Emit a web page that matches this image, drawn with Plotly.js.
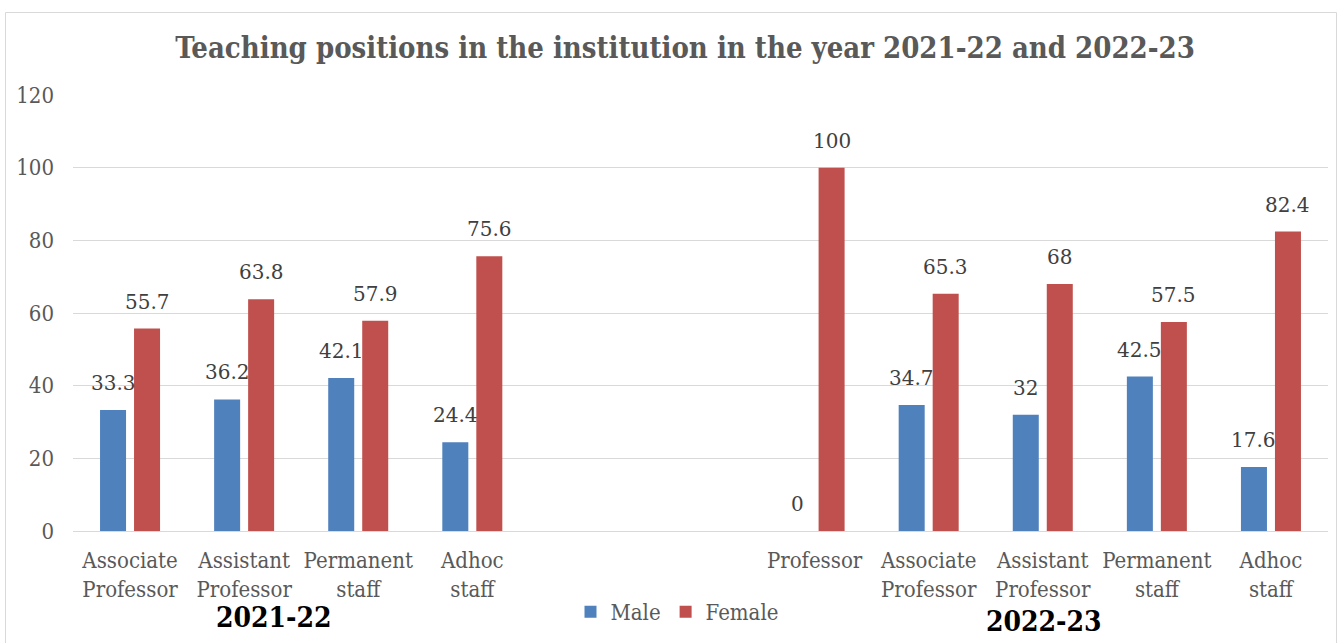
<!DOCTYPE html>
<html>
<head>
<meta charset="utf-8">
<script src="https://cdn.plot.ly/plotly-3.0.1.min.js"></script>
<style>
html,body{margin:0;padding:0;background:#fff;}
#chart{width:1338px;height:643px;}
</style>
</head>
<body>
<div id="chart"></div>
<script>
// Data
const years = ["2021-22", "2022-23"];
const categories2122 = ["Associate<br>Professor", "Assistant<br>Professor", "Permanent<br>staff", "Adhoc<br>staff"];
const categories2223 = ["Professor", "Associate<br>Professor", "Assistant<br>Professor", "Permanent<br>staff", "Adhoc<br>staff"];
const male2122 = [33.3, 36.2, 42.1, 24.4];
const female2122 = [55.7, 63.8, 57.9, 75.6];
const male2223 = [0, 34.7, 32, 42.5, 17.6];
const female2223 = [100, 65.3, 68, 57.5, 82.4];
const blankSlots = 2;

// Positions (category indices)
const idx2122 = categories2122.map((_, i) => i);
const off = categories2122.length + blankSlots;
const idx2223 = categories2223.map((_, i) => i + off);
const xs = idx2122.concat(idx2223);
const ticktext = categories2122.concat(categories2223);
const nSlots = off + categories2223.length;

const maleVals = male2122.concat(male2223);
const femaleVals = female2122.concat(female2223);

const serif = "DejaVu Serif Condensed, DejaVu Serif, serif";
const labelFont = {family: "DejaVu Serif, serif", size: 20, color: "#404040"};

const traces = [
  {type: "bar", name: "Male", x: xs, y: maleVals, marker: {color: "#4F81BD"}, hoverinfo: "y"},
  {type: "bar", name: "Female", x: xs, y: femaleVals, marker: {color: "#C0504D"}, hoverinfo: "y"}
];

// Pixel helpers for paper coords
const L = 73, R = 10, T = 95, B = 112, W = 1338, H = 643;
const pw = W - L - R, ph = H - T - B;
const px = v => (v - L) / pw;
const py = v => (H - B - v) / ph;

const dataLabels = [];
xs.forEach((x, i) => {
  dataLabels.push({text: String(maleVals[i]), x: x, y: maleVals[i], xref: "x", yref: "y", xshift: -17, yshift: 27,
    xanchor: "center", yanchor: "middle", showarrow: false, font: labelFont});
  dataLabels.push({text: String(femaleVals[i]), x: x, y: femaleVals[i], xref: "x", yref: "y", xshift: 17, yshift: 27,
    xanchor: "center", yanchor: "middle", showarrow: false, font: labelFont});
});

const layout = {
  width: W, height: H,
  margin: {l: L, r: R, t: T, b: B, pad: 0},
  paper_bgcolor: "#fff", plot_bgcolor: "#fff",
  barmode: "group", bargap: 0.404, bargroupgap: 0.235,
  title: {text: "<b>Teaching positions in the institution in the year 2021-22 and 2022-23</b>",
          font: {family: serif, size: 29, color: "#595959"}, x: 0.512, xanchor: "center", y: 0.925, yanchor: "middle"},
  xaxis: {range: [-0.5, nSlots - 0.5], tickvals: xs, ticktext: ticktext, showgrid: false, zeroline: false,
          showline: true, linecolor: "#d9d9d9", linewidth: 1, ticks: "", ticklabelstandoff: 10,
          tickfont: {family: serif, size: 22, color: "#595959"}, fixedrange: true},
  yaxis: {range: [0, 120], dtick: 20, showgrid: true, gridcolor: "#d9d9d9", gridwidth: 1, zeroline: false,
          showline: false, ticks: "", ticklabelstandoff: 18, tickfont: {family: serif, size: 22, color: "#595959"}, fixedrange: true},
  legend: {orientation: "h", x: px(677), xanchor: "center", y: py(612), yanchor: "middle",
           font: {family: serif, size: 22, color: "#595959"}, itemwidth: 30, traceorder: "normal"},
  annotations: [
    {text: "<b>" + years[0] + "</b>", xref: "paper", yref: "paper", x: px(274), y: py(617), xanchor: "center", yanchor: "middle",
     showarrow: false, font: {family: serif, size: 28, color: "#000"}},
    {text: "<b>" + years[1] + "</b>", xref: "paper", yref: "paper", x: px(1044), y: py(621), xanchor: "center", yanchor: "middle",
     showarrow: false, font: {family: serif, size: 28, color: "#000"}}
  ].concat(dataLabels),
  shapes: [
    {type: "rect", xref: "paper", yref: "paper", x0: px(5.5), x1: px(1336.5), y0: py(645), y1: py(12.5),
     line: {color: "#d9d9d9", width: 1}, fillcolor: "rgba(0,0,0,0)", layer: "below"}
  ],
  showlegend: true
};

Plotly.newPlot("chart", traces, layout, {displayModeBar: false, staticPlot: true});
</script>
</body>
</html>
